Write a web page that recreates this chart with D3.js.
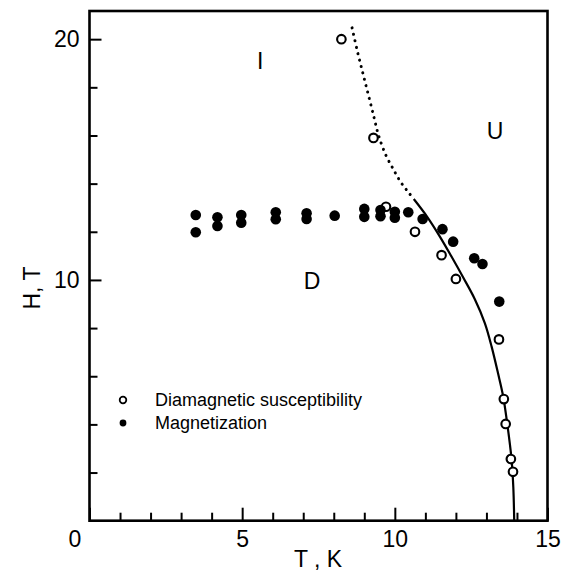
<!DOCTYPE html>
<html>
<head>
<meta charset="utf-8">
<script src="https://cdn.jsdelivr.net/npm/d3@7"></script>
<style>
  html, body { margin: 0; padding: 0; background: #fff; }
  svg { display: block; }
  text { font-family: "Liberation Sans", Arial, Helvetica, sans-serif; fill: #000; }
</style>
</head>
<body>
<svg id="chart" width="569" height="573"></svg>
<script>
// Diamagnetic susceptibility points (T in K, H in T)
const diaT = [8.25, 9.3, 9.71, 10.66, 11.53, 12.0, 13.41, 13.57, 13.63, 13.80, 13.87];
const diaH = [20.0, 15.9, 13.04, 12.0, 11.03, 10.04, 7.53, 5.05, 4.02, 2.56, 2.03];

// Magnetization points
const magT = [3.48, 3.48, 4.19, 4.19, 4.97, 4.97, 6.1, 6.1, 7.11, 7.11, 8.03,
              9.0, 9.0, 9.53, 9.53, 10.0, 10.0, 10.44, 10.91, 11.56, 11.91, 12.6, 12.87, 13.42];
const magH = [12.70, 11.98, 12.6, 12.24, 12.7, 12.38, 12.81, 12.52, 12.77, 12.53, 12.67,
              12.95, 12.62, 12.9, 12.65, 12.83, 12.58, 12.81, 12.53, 12.11, 11.59, 10.9, 10.66, 9.1];

// Phase boundary: solid part
const boundT = [10.62, 11.06, 11.48, 11.86, 12.24, 12.62, 12.95, 13.17, 13.38, 13.55, 13.68, 13.82, 13.88, 13.91];
const boundH = [13.36, 12.62, 11.79, 10.96, 10.1, 9.2, 8.2, 7.23, 6.12, 5.15, 4.04, 2.59, 1.4, 0];

// Phase boundary: dotted extrapolation
const extT = [8.6, 8.78, 8.96, 9.14, 9.32, 9.47, 9.7, 9.95, 10.2, 10.42, 10.62];
const extH = [20.47, 19.46, 18.55, 17.65, 16.74, 15.99, 15.2, 14.6, 14.05, 13.68, 13.36];

// Axis ticks
const xMajor = [0, 5, 10, 15];
const xMinor = [1, 2, 3, 4, 6, 7, 8, 9, 11, 12, 13, 14];
const yMajor = [10, 20];
const yMinor = [2, 4, 6, 8, 12, 14, 16, 18];

// Region labels (anchor = text baseline centre)
const regionNames = ["I", "U", "D"];
const regionT = [5.59, 13.28, 7.29];
const regionH = [18.75, 15.85, 9.62];

const legendNames = ["Diamagnetic susceptibility", "Magnetization"];

const svg = d3.select("#chart");
const plotL = 89.5, plotR = 547.5, plotT = 11, plotB = 520.7;

const x = d3.scaleLinear().domain([0, 15]).range([plotL, plotR]);
const y = d3.scaleLinear().domain([0, 21.17]).range([plotB, plotT]);

const tickFont = 23;

function styleTicks(g) {
  g.select(".domain").remove();
  g.selectAll("line").attr("stroke", "#000").attr("stroke-width", 2);
  g.selectAll("text")
    .attr("font-size", tickFont)
    .attr("font-family", "Liberation Sans, Arial, sans-serif")
    .attr("fill", "#000");
}

// x axis: minor ticks
svg.append("g")
  .attr("transform", `translate(0,${plotB})`)
  .call(d3.axisBottom(x).tickValues(xMinor).tickSize(-8).tickFormat(""))
  .call(styleTicks);

// x axis: major ticks and labels
const xAx = svg.append("g")
  .attr("transform", `translate(0,${plotB})`)
  .call(d3.axisBottom(x).tickValues(xMajor).tickSize(-13).tickPadding(10).tickFormat(d3.format("d")))
  .call(styleTicks);
xAx.selectAll(".tick").filter(d => d === 0).select("text").attr("x", -15);

// y axis: minor ticks
svg.append("g")
  .attr("transform", `translate(${plotL},0)`)
  .call(d3.axisLeft(y).tickValues(yMinor).tickSize(-8).tickFormat(""))
  .call(styleTicks);

// y axis: major ticks and labels
svg.append("g")
  .attr("transform", `translate(${plotL},0)`)
  .call(d3.axisLeft(y).tickValues(yMajor).tickSize(-12).tickPadding(10).tickFormat(d3.format("d")))
  .call(styleTicks);

// Frame
svg.append("rect")
  .attr("x", plotL).attr("y", plotT)
  .attr("width", plotR - plotL).attr("height", plotB - plotT)
  .attr("fill", "none").attr("stroke", "#000").attr("stroke-width", 2.6);

// Axis titles
svg.append("text")
  .attr("x", 318).attr("y", 567)
  .attr("text-anchor", "middle")
  .attr("font-size", tickFont)
  .text("T , K");

svg.append("text")
  .attr("transform", "translate(40,288) rotate(-90)")
  .attr("text-anchor", "middle")
  .attr("font-size", tickFont)
  .text("H, T");

// Phase boundary lines
const line = d3.line()
  .x(d => x(d[0])).y(d => y(d[1]))
  .curve(d3.curveCatmullRom.alpha(0.5));

svg.append("path")
  .datum(extT.map((t, i) => [t, extH[i]]))
  .attr("d", line)
  .attr("fill", "none").attr("stroke", "#000")
  .attr("stroke-width", 3)
  .attr("stroke-linecap", "round")
  .attr("stroke-dasharray", "0.1,6.5");

svg.append("path")
  .datum(boundT.map((t, i) => [t, boundH[i]]))
  .attr("d", line)
  .attr("fill", "none").attr("stroke", "#000")
  .attr("stroke-width", 2.2);

// Region labels
svg.append("g").selectAll("text")
  .data(regionNames)
  .join("text")
  .attr("x", (d, i) => x(regionT[i]))
  .attr("y", (d, i) => y(regionH[i]))
  .attr("text-anchor", "middle")
  .attr("font-size", tickFont)
  .text(d => d);

// Diamagnetic susceptibility (open circles)
svg.append("g").selectAll("circle")
  .data(diaT.map((t, i) => [t, diaH[i]]))
  .join("circle")
  .attr("cx", d => x(d[0])).attr("cy", d => y(d[1]))
  .attr("r", 4.3)
  .attr("fill", "#fff").attr("stroke", "#000").attr("stroke-width", 2.1);

// Magnetization (filled dots)
svg.append("g").selectAll("circle")
  .data(magT.map((t, i) => [t, magH[i]]))
  .join("circle")
  .attr("cx", d => x(d[0])).attr("cy", d => y(d[1]))
  .attr("r", 5.3)
  .attr("fill", "#000");

// Legend
const leg = svg.append("g").attr("transform", "translate(123,0)");
leg.append("circle").attr("cx", 0).attr("cy", 400).attr("r", 3.3)
  .attr("fill", "#fff").attr("stroke", "#000").attr("stroke-width", 1.8);
leg.append("circle").attr("cx", 0).attr("cy", 423).attr("r", 3.4).attr("fill", "#000");
leg.selectAll("text")
  .data(legendNames)
  .join("text")
  .attr("x", 32)
  .attr("y", (d, i) => 406 + i * 23)
  .attr("font-size", 18)
  .text(d => d);
</script>
</body>
</html>
